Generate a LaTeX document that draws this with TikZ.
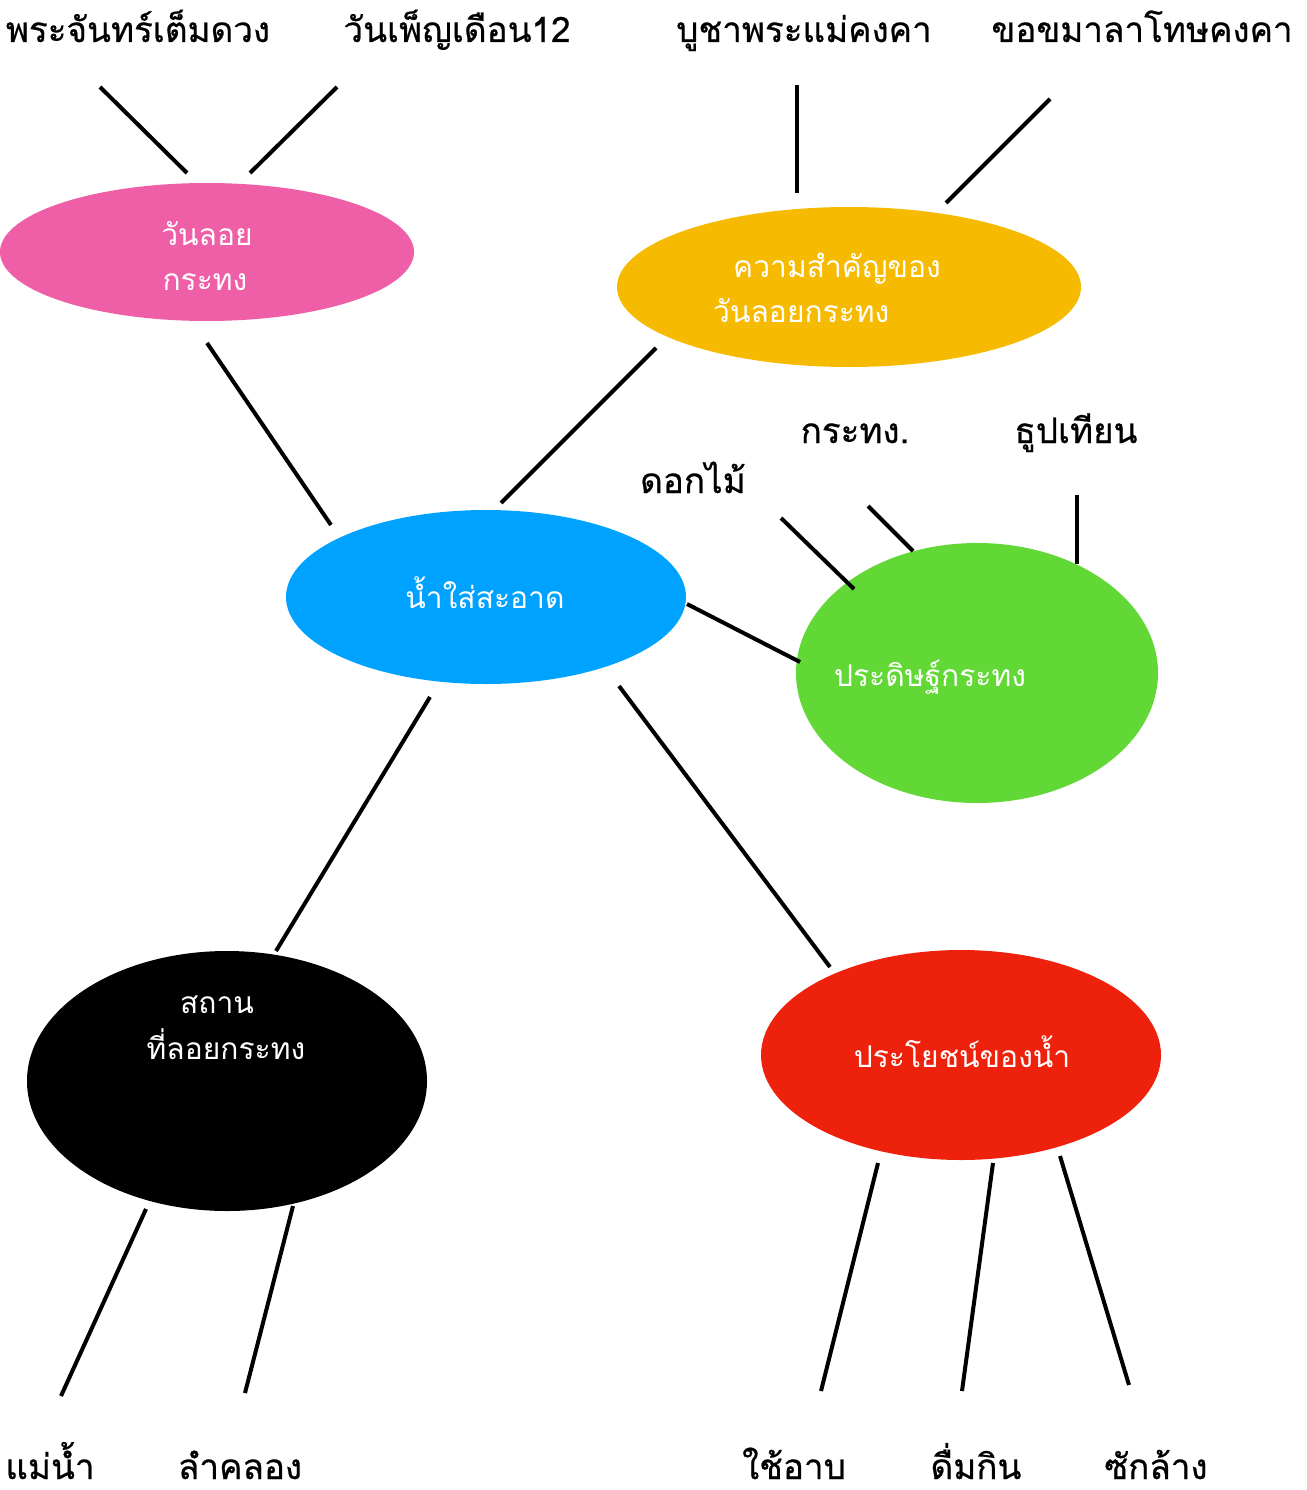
\documentclass[tikz,border=0pt]{standalone}
\usepackage{fontspec}
\newfontfamily\thaifont[Script=Thai]{Loma}
\newfontfamily\thaiboldish[Script=Thai,FakeBold=0.6]{Loma}
\begin{document}
\begin{tikzpicture}[x=1pt,y=-1pt,
  ln/.style={line width=4pt, line cap=butt},
  lbl/.style={anchor=base, inner sep=0pt, text depth=0pt, font=\thaiboldish\fontsize{35}{40}\selectfont},
  wlbl/.style={anchor=base, inner sep=0pt, text=white, font=\thaifont\fontsize{30}{34}\selectfont},
]
\useasboundingbox (0,0) rectangle (1306,1490);
\definecolor{cpink}{HTML}{EF5FA7}
\definecolor{cyel}{HTML}{F6BB00}
\definecolor{cblue}{HTML}{00A2FF}
\definecolor{cgreen}{HTML}{61D836}
\definecolor{cred}{HTML}{EE220C}
% ellipses
\fill[cpink] (207,252) ellipse [x radius=207, y radius=69];
\fill[cyel] (849,287) ellipse [x radius=232, y radius=80];
\fill[cblue] (486,597) ellipse [x radius=200, y radius=87];
\fill[cgreen] (977,673) ellipse [x radius=181, y radius=130];
\fill[black] (227,1081) ellipse [x radius=200, y radius=130];
\fill[cred] (961,1055) ellipse [x radius=200, y radius=105];
% ellipse labels
\node[wlbl] (p1) at (207,245) {วันลอย};
\node[wlbl] (p2) at (205,290) {กระทง};
\node[wlbl, anchor=base west] (y1) at (733,277) {ความสำคัญของ};
\node[wlbl, anchor=base west] (y2) at (713,322) {วันลอยกระทง};
\node[wlbl] (b1) at (485,608) {น้ำใส่สะอาด};
\node[wlbl] (g1) at (930,686) {ประดิษฐ์กระทง};
\node[wlbl] (k1) at (217,1013) {สถาน};
\node[wlbl] (k2) at (226,1059) {ที่ลอยกระทง};
\node[wlbl] (r1) at (962,1067) {ประโยชน์ของน้ำ};
% outer labels
\node[lbl] (t1) at (138,42) {พระจันทร์เต็มดวง};
\node[lbl] (t2) at (457,42) {วันเพ็ญเดือน12};
\node[lbl] (t3) at (804,42) {บูชาพระแม่คงคา};
\node[lbl] (t4) at (1142,42) {ขอขมาลาโทษคงคา};
\node[lbl] (m1) at (855,443) {กระทง.};
\node[lbl] (m2) at (1076,443) {ธูปเทียน};
\node[lbl] (m3) at (693,493) {ดอกไม้};
\node[lbl] (d1) at (50,1479) {แม่น้ำ};
\node[lbl] (d2) at (240,1479) {ลำคลอง};
\node[lbl] (d3) at (794,1479) {ใช้อาบ};
\node[lbl] (d4) at (976,1479) {ดื่มกิน};
\node[lbl] (d5) at (1156,1479) {ซักล้าง};
% connector ends
\foreach \n/\x/\y in {a1/100/87, a2/187/173, b1e/337/87, b2e/250/173,
  c1/797/85, c2/797/193, e1/1050/99, e2/946/203,
  f1/207/343, f2/331/525, h1/656/348, h2/501/503,
  i1/781/518, i2/854/589, j1/868/506, j2/913/551, l1/1077/495, l2/1077/564,
  n1/687/604, n2/800/662, o1/430/697, o2/276/951, q1/619/686, q2/830/967,
  s1/146/1209, s2/61/1396, u1/293/1206, u2/245/1393,
  v1/878/1163, v2/821/1391, w1/993/1163, w2/962/1391, z1/1060/1156, z2/1129/1385}
  {\coordinate (\n) at (\x,\y);}
\foreach \p/\q in {a1/a2, b1e/b2e, c1/c2, e1/e2, f1/f2, h1/h2, i1/i2, j1/j2, l1/l2,
  n1/n2, o1/o2, q1/q2, s1/s2, u1/u2, v1/v2, w1/w2, z1/z2}
  {\draw[ln] (\p) -- (\q);}
\end{tikzpicture}
\end{document}
